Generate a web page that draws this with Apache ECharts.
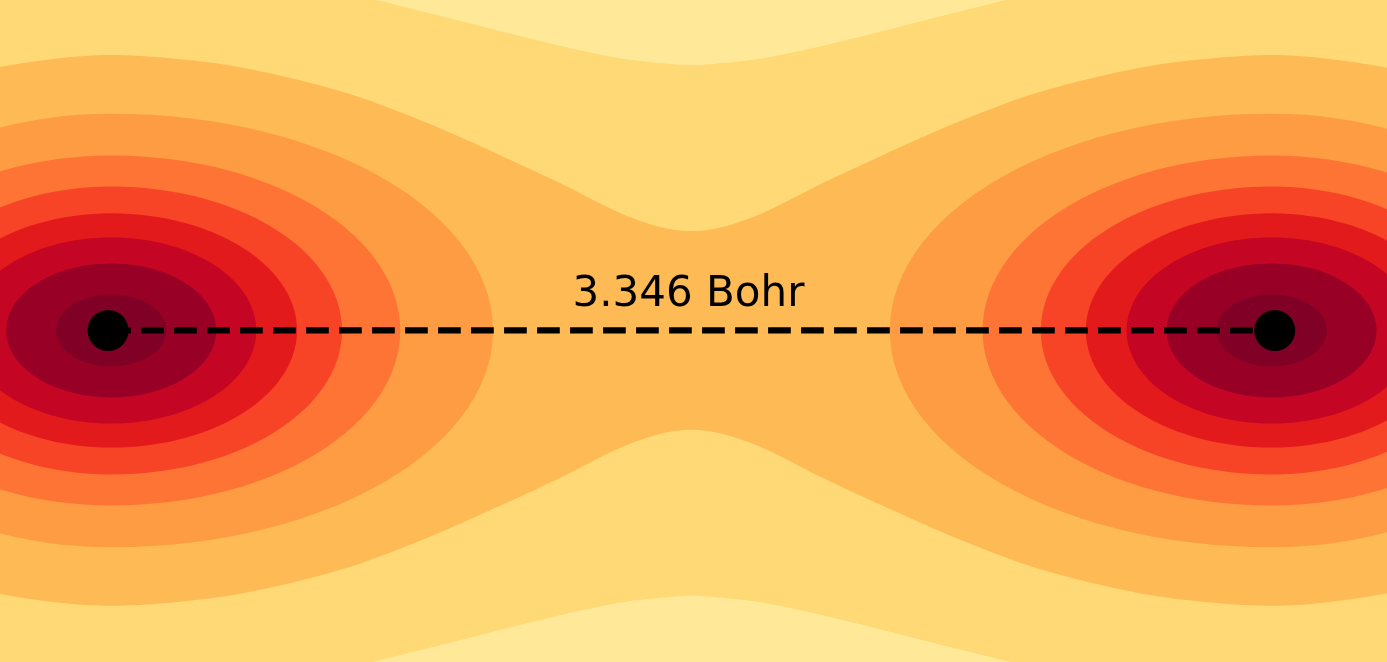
<!DOCTYPE html>
<html><head><meta charset="utf-8">
<script src="https://cdn.jsdelivr.net/npm/echarts@6/dist/echarts.min.js"></script>
<style>html,body{margin:0;padding:0;background:#fff}#chart{width:1387px;height:662px}</style>
</head><body><div id="chart"></div>
<script>
// ---- data (Bohr units) ----
const atomX = [-1.673, 1.673];
const atomY = [0, 0];
const bondLabel = '3.346 Bohr';
// contour band colours, lowest density first
const bandColors = ['#FFE998', '#FED976', '#FEBA54', '#FD9C42', '#FD7435', '#F74427', '#E31A1C', '#C50524', '#980026', '#800026'];
// boundary between lightest and yellow band (upper-left quarter, x<=0)
const outerEdgeX = [-1.20, -1.037, -0.902, -0.693, -0.492, -0.320, -0.205, -0.090, 0];
const outerEdgeY = [1.02, 0.981, 0.948, 0.896, 0.845, 0.804, 0.781, 0.767, 0.761];
// boundary of the dumbbell band (upper-left quarter)
const neckEdgeX = [-2.30, -2.15, -1.983, -1.811, -1.667, -1.496, -1.315, -1.123, -0.951, -0.750, -0.549, -0.377, -0.205, -0.090, 0];
const neckEdgeY = [0.650, 0.715, 0.756, 0.781, 0.790, 0.781, 0.759, 0.718, 0.669, 0.592, 0.503, 0.423, 0.337, 0.297, 0.285];
// closed bands around each nucleus: extent toward bond, extent away from bond, half-height
const ringFront = [1.095, 0.829, 0.662, 0.533, 0.416, 0.301, 0.158];
const ringBack  = [0.900, 0.763, 0.614, 0.516, 0.416, 0.301, 0.158];
const ringHalfH = [0.622, 0.502, 0.413, 0.336, 0.267, 0.192, 0.103];
const ringShift = 0.009;

const X_MIN = -1.983, X_MAX = 1.995, Y_MIN = -0.951, Y_MAX = 0.948;

function toPx(api, pts) { return pts.map(p => api.coord(p)); }

function outerPolygon(sign) {
  const up = outerEdgeX.map((x, i) => [x, outerEdgeY[i] * sign]);
  const mir = up.slice(0, -1).reverse().map(p => [-p[0], p[1]]);
  const pts = up.concat(mir);
  pts.push([-outerEdgeX[0] + 0.3, 1.4 * sign]);
  pts.push([outerEdgeX[0] - 0.3, 1.4 * sign]);
  return pts;
}
function neckPolygon() {
  const up = neckEdgeX.map((x, i) => [x, neckEdgeY[i]]);
  const mir = up.slice(0, -1).reverse().map(p => [-p[0], p[1]]);
  const upper = up.concat(mir);
  const lower = upper.slice().reverse().map(p => [p[0], -p[1]]);
  return upper.concat(lower);
}
function ringPolygon(a, r) {
  const dir = a === 0 ? 1 : -1;
  const cx = atomX[a] + dir * ringShift, cy = atomY[a];
  const pts = [];
  const n = 120;
  for (let k = 0; k < n; k++) {
    const t = 2 * Math.PI * k / n;
    const c = Math.cos(t), s = Math.sin(t);
    const rx = c >= 0 ? ringFront[r] : ringBack[r];
    pts.push([cx + dir * rx * c, cy + ringHalfH[r] * s]);
  }
  return pts;
}

const ringData = [];
for (let r = 0; r < ringFront.length; r++) for (let a = 0; a < atomX.length; a++) ringData.push([a, r]);

const chart = echarts.init(document.getElementById('chart'));
chart.setOption({
  animation: false,
  backgroundColor: bandColors[1],
  grid: { left: 0, right: 0, top: 0, bottom: 0 },
  xAxis: { type: 'value', min: X_MIN, max: X_MAX, show: false },
  yAxis: { type: 'value', min: Y_MIN, max: Y_MAX, show: false },
  series: [
    {
      type: 'custom', z: 1, data: [[1], [-1]],
      renderItem: (params, api) => ({
        type: 'polygon',
        shape: { points: toPx(api, outerPolygon(api.value(0))), smooth: 0.3 },
        style: { fill: bandColors[0] }
      })
    },
    {
      type: 'custom', z: 2, data: [[0]],
      renderItem: (params, api) => ({
        type: 'polygon',
        shape: { points: toPx(api, neckPolygon()), smooth: 0.3 },
        style: { fill: bandColors[2] }
      })
    },
    {
      type: 'custom', z: 3, data: ringData,
      renderItem: (params, api) => {
        const a = api.value(0), r = api.value(1);
        return {
          type: 'polygon',
          shape: { points: toPx(api, ringPolygon(a, r)) },
          style: { fill: bandColors[3 + r] }
        };
      }
    },
    {
      type: 'line', z: 4, symbol: 'none', silent: true,
      data: atomX.map((x, i) => [x, atomY[i]]),
      lineStyle: { color: '#000', width: 6.25, type: [22.7, 10.3], dashOffset: 0, cap: 'butt' }
    },
    {
      type: 'scatter', z: 5, symbol: 'circle', symbolSize: 41,
      data: atomX.map((x, i) => [x, atomY[i]]),
      itemStyle: { color: '#000', opacity: 1 }
    },
    {
      type: 'custom', z: 6, data: [[(atomX[0] + atomX[1]) / 2, (atomY[0] + atomY[1]) / 2]],
      renderItem: (params, api) => {
        const p = api.coord([api.value(0), api.value(1)]);
        return {
          type: 'text',
          style: {
            text: bondLabel, x: p[0] - 3, y: p[1] - 35,
            fill: '#000', fontSize: 42, fontFamily: 'DejaVu Sans',
            align: 'center', verticalAlign: 'middle'
          }
        };
      }
    }
  ]
});
</script></body></html>
